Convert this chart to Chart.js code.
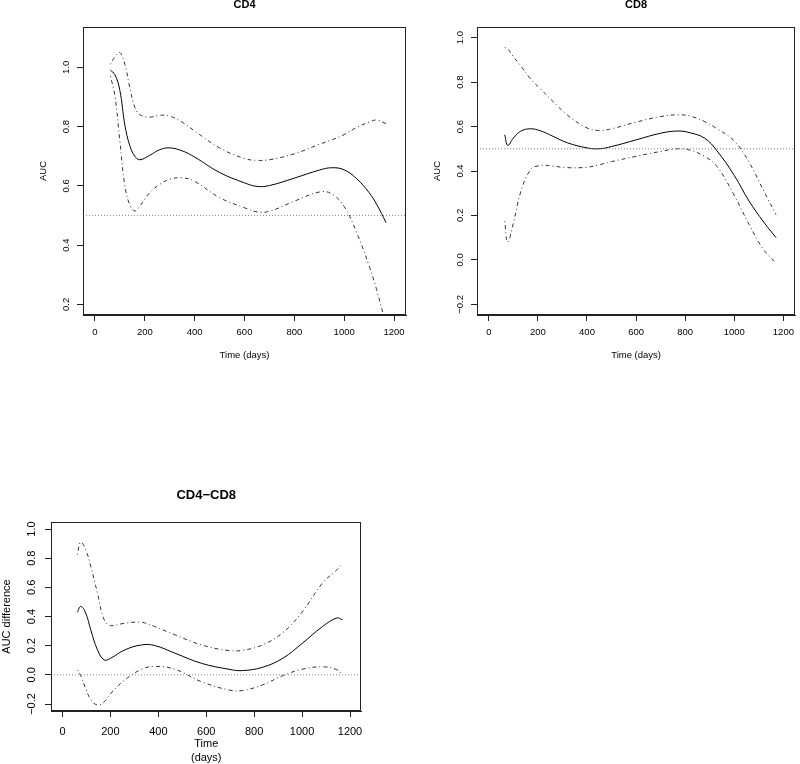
<!DOCTYPE html>
<html>
<head>
<meta charset="utf-8">
<script src="https://cdn.jsdelivr.net/npm/chart.js@4.4.0/dist/chart.umd.min.js"></script>
<style>
  body { margin: 0; background: #fff; width: 800px; height: 764px; position: relative; overflow: hidden; }
  canvas { position: absolute; }
</style>
</head>
<body>
<canvas id="chart-cd4" width="420" height="380" style="left:0;top:0"></canvas>
<canvas id="chart-cd8" width="400" height="380" style="left:400px;top:0"></canvas>
<canvas id="chart-diff" width="400" height="294" style="left:0;top:470px"></canvas>
<script>
// shared time axis
const dayTicks = [0, 200, 400, 600, 800, 1000, 1200];
const dayRange = [-48, 1248];

// CD4 panel
const cd4Days = [62, 80, 100, 120, 140, 160, 180, 220, 260, 300, 350, 400, 500, 600, 650, 700, 800, 900, 950, 1000, 1050, 1100, 1130, 1168];
const cd4Auc = [0.99, 0.975, 0.922, 0.805, 0.735, 0.70, 0.688, 0.703, 0.722, 0.728, 0.718, 0.697, 0.645, 0.61, 0.598, 0.601, 0.626, 0.653, 0.661, 0.654, 0.624, 0.577, 0.538, 0.476];
const cd4Upper = [1.01, 1.035, 1.05, 1.01, 0.93, 0.865, 0.84, 0.832, 0.838, 0.835, 0.815, 0.785, 0.728, 0.692, 0.686, 0.688, 0.708, 0.74, 0.755, 0.773, 0.797, 0.815, 0.822, 0.81];
const cd4Lower = [0.97, 0.905, 0.75, 0.6, 0.535, 0.515, 0.532, 0.577, 0.605, 0.622, 0.627, 0.615, 0.56, 0.526, 0.512, 0.514, 0.548, 0.579, 0.573, 0.53, 0.442, 0.33, 0.25, 0.13];
const cd4Ticks = [0.2, 0.4, 0.6, 0.8, 1.0];
const cd4Range = [0.164, 1.136];
const cd4Ref = 0.5;

// CD8 panel
const cd8Days = [65, 77, 100, 130, 170, 210, 260, 320, 400, 450, 500, 600, 700, 770, 820, 880, 930, 1000, 1060, 1120, 1170];
const cd8Auc = [0.563, 0.515, 0.548, 0.579, 0.59, 0.581, 0.557, 0.527, 0.504, 0.50, 0.51, 0.54, 0.57, 0.58, 0.572, 0.547, 0.49, 0.38, 0.265, 0.17, 0.10];
const cd8Upper = [0.955, 0.95, 0.915, 0.873, 0.815, 0.77, 0.715, 0.652, 0.594, 0.582, 0.59, 0.62, 0.645, 0.653, 0.647, 0.622, 0.59, 0.535, 0.44, 0.31, 0.204];
const cd8Lower = [0.174, 0.08, 0.165, 0.305, 0.405, 0.425, 0.422, 0.415, 0.417, 0.428, 0.442, 0.466, 0.488, 0.50, 0.494, 0.465, 0.42, 0.29, 0.16, 0.045, -0.013];
const cd8Ticks = [-0.2, 0.0, 0.2, 0.4, 0.6, 0.8, 1.0];
const cd8Range = [-0.248, 1.048];
const cd8Ref = 0.5;

// CD4-CD8 difference panel
const diffDays = [62, 76, 97, 118, 146, 174, 200, 260, 330, 385, 470, 580, 695, 750, 835, 920, 1000, 1085, 1145, 1168];
const diffAuc = [0.428, 0.469, 0.423, 0.308, 0.171, 0.102, 0.113, 0.171, 0.205, 0.201, 0.148, 0.079, 0.038, 0.029, 0.052, 0.114, 0.215, 0.331, 0.39, 0.377];
const diffUpper = [0.824, 0.91, 0.858, 0.744, 0.56, 0.377, 0.338, 0.354, 0.36, 0.331, 0.274, 0.205, 0.166, 0.168, 0.205, 0.29, 0.43, 0.629, 0.72, 0.762];
const diffLower = [0.034, -0.005, -0.095, -0.17, -0.207, -0.185, -0.13, -0.035, 0.038, 0.058, 0.038, -0.047, -0.104, -0.108, -0.069, -0.005, 0.038, 0.055, 0.035, 0.0];
const diffTicks = [-0.2, 0.0, 0.2, 0.4, 0.6, 0.8, 1.0];
const diffRange = [-0.248, 1.048];
const diffRef = 0;

const FONT = "'Liberation Sans', Arial, Helvetica, sans-serif";
const INK = '#222';

function pts(days, vals) {
  return days.map((d, i) => ({ x: d, y: vals[i] }));
}

function align(p) {
  return Math.round(p - 0.5) + 0.5;
}

function fmtTick(v) {
  return v.toFixed(1).replace('-', '\u2212');
}

// box round the plot, titles, axis labels, rotated y tick labels (R style)
const decor = {
  id: 'decor',
  afterDraw(chart, _args, o) {
    const { ctx, chartArea: a } = chart;
    const ys = chart.scales.y;
    const cx = (a.left + a.right) / 2;
    const cy = (a.top + a.bottom) / 2;
    ctx.save();
    ctx.strokeStyle = INK;
    ctx.lineWidth = 1;
    const l = align(a.left), t = align(a.top), r = align(a.right - 1), b = align(a.bottom - 1);
    ctx.strokeRect(l, t, r - l, b - t);

    ctx.fillStyle = '#000';
    ctx.textAlign = 'center';
    ctx.textBaseline = 'middle';

    ctx.font = `${o.fontSize}px ${FONT}`;
    ys.ticks.forEach((tk) => {
      const y = ys.getPixelForValue(tk.value);
      ctx.save();
      ctx.translate(a.left - o.yTickGap, y);
      ctx.rotate(-Math.PI / 2);
      ctx.fillText(fmtTick(tk.value), 0, 0);
      ctx.restore();
    });

    ctx.save();
    ctx.translate(a.left - o.yTitleGap, cy);
    ctx.rotate(-Math.PI / 2);
    ctx.fillText(o.yTitle, 0, 0);
    ctx.restore();

    o.xTitle.forEach((line, i) => {
      ctx.fillText(line, cx, a.bottom + o.xTitleGap + i * o.lineGap);
    });

    ctx.font = `bold ${o.titleSize}px ${FONT}`;
    ctx.fillText(o.title, cx, o.titleY);
    ctx.restore();
  },
};

function makePanel(id, p) {
  const ci = { borderColor: '#333', borderWidth: 1, borderDash: [1, 3, 4, 3], pointRadius: 0, tension: 0.4 };
  return new Chart(document.getElementById(id), {
    type: 'line',
    data: {
      datasets: [
        { data: [{ x: dayRange[0], y: p.ref }, { x: dayRange[1], y: p.ref }], borderColor: '#888', borderWidth: 1, borderDash: [1, 2], pointRadius: 0 },
        { data: pts(p.days, p.upper), ...ci },
        { data: pts(p.days, p.lower), ...ci },
        { data: pts(p.days, p.est), borderColor: '#000', borderWidth: 1, pointRadius: 0, tension: 0.4 },
      ],
    },
    options: {
      responsive: false,
      animation: false,
      events: [],
      layout: { autoPadding: false, padding: p.padding },
      plugins: {
        legend: { display: false },
        tooltip: { enabled: false },
        decor: p.decor,
      },
      scales: {
        x: {
          type: 'linear',
          min: dayRange[0],
          max: dayRange[1],
          afterBuildTicks: (s) => { s.ticks = dayTicks.map((v) => ({ value: v })); },
          afterFit: (s) => { s.height = p.xHeight; },
          ticks: {
            autoSkip: false,
            maxRotation: 0,
            padding: p.tickPad,
            color: '#000',
            font: { family: FONT, size: p.decor.fontSize },
            callback: (v) => String(v),
          },
          grid: { drawOnChartArea: false, drawTicks: true, tickLength: 6, color: INK },
          border: { display: true, color: INK },
        },
        y: {
          type: 'linear',
          min: p.range[0],
          max: p.range[1],
          afterBuildTicks: (s) => { s.ticks = p.ticks.map((v) => ({ value: v })); },
          afterFit: (s) => { s.width = p.yWidth; },
          ticks: { display: false },
          grid: { drawOnChartArea: false, drawTicks: true, tickLength: 6, color: INK },
          border: { display: true, color: INK },
        },
      },
    },
    plugins: [decor],
  });
}

makePanel('chart-cd4', {
  days: cd4Days, est: cd4Auc, upper: cd4Upper, lower: cd4Lower, ticks: cd4Ticks, range: cd4Range, ref: cd4Ref,
  padding: { top: 27, right: 14, left: 0, bottom: 0 }, yWidth: 83, xHeight: 65, tickPad: 6,
  decor: { title: 'CD4', titleSize: 11, titleY: 5, fontSize: 9.5, yTitle: 'AUC', yTickGap: 16.3, yTitleGap: 39.7, xTitle: ['Time (days)'], xTitleGap: 40.7, lineGap: 12 },
});

makePanel('chart-cd8', {
  days: cd8Days, est: cd8Auc, upper: cd8Upper, lower: cd8Lower, ticks: cd8Ticks, range: cd8Range, ref: cd8Ref,
  padding: { top: 27, right: 1, left: 0, bottom: 0 }, yWidth: 77, xHeight: 65, tickPad: 6,
  decor: { title: 'CD8', titleSize: 11, titleY: 5, fontSize: 9.5, yTitle: 'AUC', yTickGap: 17, yTitleGap: 39.7, xTitle: ['Time (days)'], xTitleGap: 40.7, lineGap: 12 },
});

makePanel('chart-diff', {
  days: diffDays, est: diffAuc, upper: diffUpper, lower: diffLower, ticks: diffTicks, range: diffRange, ref: diffRef,
  padding: { top: 52, right: 38.5, left: 0, bottom: 0 }, yWidth: 51, xHeight: 53, tickPad: 8,
  decor: { title: 'CD4\u2212CD8', titleSize: 13, titleY: 25.7, fontSize: 11, yTitle: 'AUC difference', yTickGap: 19.3, yTitleGap: 44.3, xTitle: ['Time', '(days)'], xTitleGap: 33, lineGap: 14 },
});
</script>
</body>
</html>
